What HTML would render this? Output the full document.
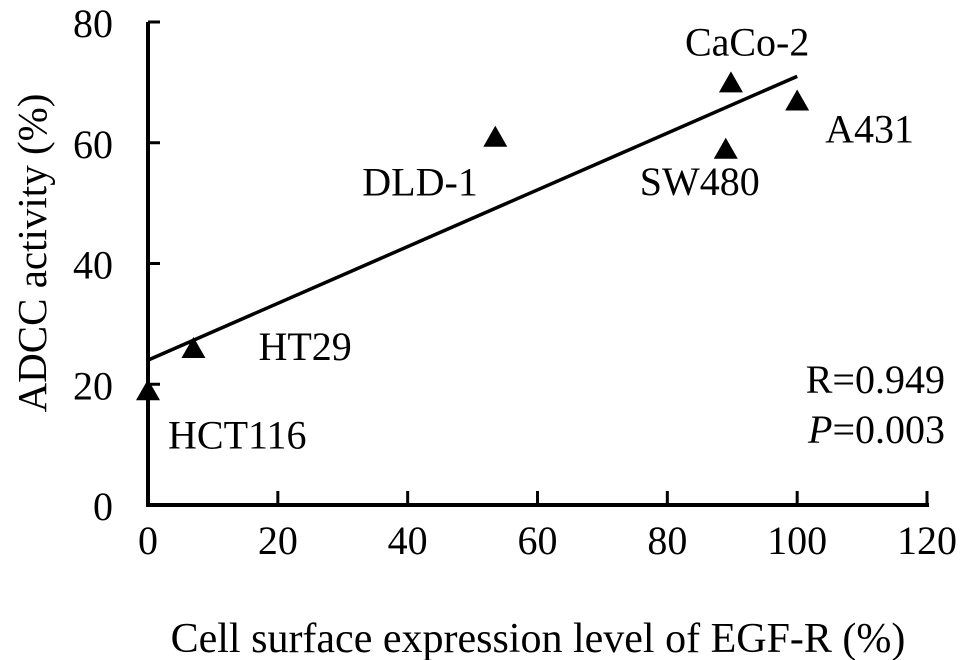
<!DOCTYPE html>
<html><head><meta charset="utf-8"><style>
body{margin:0;background:#fff}
svg{display:block;font-family:"Liberation Serif",serif}
</style></head><body>
<svg id="chart" width="969" height="660">
<g id="axes"></g><g id="marks"></g>
<text x="46" y="253" font-size="41" text-anchor="middle" transform="rotate(-90 46 253)">ADCC activity (%)</text>
<text x="538" y="652" font-size="42" text-anchor="middle">Cell surface expression level of EGF-R (%)</text>
<text x="945" y="393" font-size="40" text-anchor="end">R=0.949</text>
<text x="945" y="443" font-size="40" text-anchor="end"><tspan font-style="italic">P</tspan>=0.003</text>
</svg>
<script>
const labels=["HCT116","HT29","DLD-1","SW480","CaCo-2","A431"];
const xVals=[0,7,53.5,89,89.8,100];
const yVals=[19,26,61,59,70,67];
const xTicks=[0,20,40,60,80,100,120];
const yTicks=[0,20,40,60,80];
const fitLine=[[0,24],[100,71]];
const labelOffsets=[[20,58],[65,12],[-133,59],[-86,46],[-46,-27],[28,42]];
const X=v=>148+v*(927-148)/120, Y=v=>505-v*(505-22)/80;
const NS="http://www.w3.org/2000/svg";
function mk(t,a,p){const e=document.createElementNS(NS,t);for(const k in a)e.setAttribute(k,a[k]);p.appendChild(e);return e;}
const ax=document.getElementById('axes'), mg=document.getElementById('marks');
let e=mk('line',{x1:X(0)-2,y1:Y(0),x2:X(120)+2,y2:Y(0),stroke:'#000','stroke-width':4},ax);


e=mk('line',{x1:X(0),y1:Y(0)+2,x2:X(0),y2:Y(80),stroke:'#000','stroke-width':4},ax);


xTicks.forEach(t=>{
 let l=mk('line',{x1:X(t),y1:Y(0),x2:X(t),y2:Y(0)-14,stroke:'#000','stroke-width':3},ax);
 
 
 let s=mk('text',{x:X(t),y:554,'font-size':40,'text-anchor':'middle'},ax);s.textContent=t;
 
 
});
yTicks.forEach(t=>{
 let l=mk('line',{x1:X(0),y1:Y(t),x2:X(0)+12,y2:Y(t),stroke:'#000','stroke-width':3},ax);
 
 
 let s=mk('text',{x:113,y:Y(t)+15,'font-size':40,'text-anchor':'end'},ax);s.textContent=t;
 
 
});
e=mk('line',{x1:X(fitLine[0][0]),y1:Y(fitLine[0][1]),x2:X(fitLine[1][0]),y2:Y(fitLine[1][1]),stroke:'#000','stroke-width':3.5},mg);


xVals.forEach((v,i)=>{
 const cx=X(v),cy=Y(yVals[i]);
 let p=mk('polygon',{points:`${cx-12},${cy+10} ${cx+12},${cy+10} ${cx},${cy-11}`,fill:'#000'},mg);
 
 
 let s=mk('text',{x:cx+labelOffsets[i][0],y:cy+labelOffsets[i][1],'font-size':40},mg);s.textContent=labels[i];
 
 
});
</script>
</body></html>
